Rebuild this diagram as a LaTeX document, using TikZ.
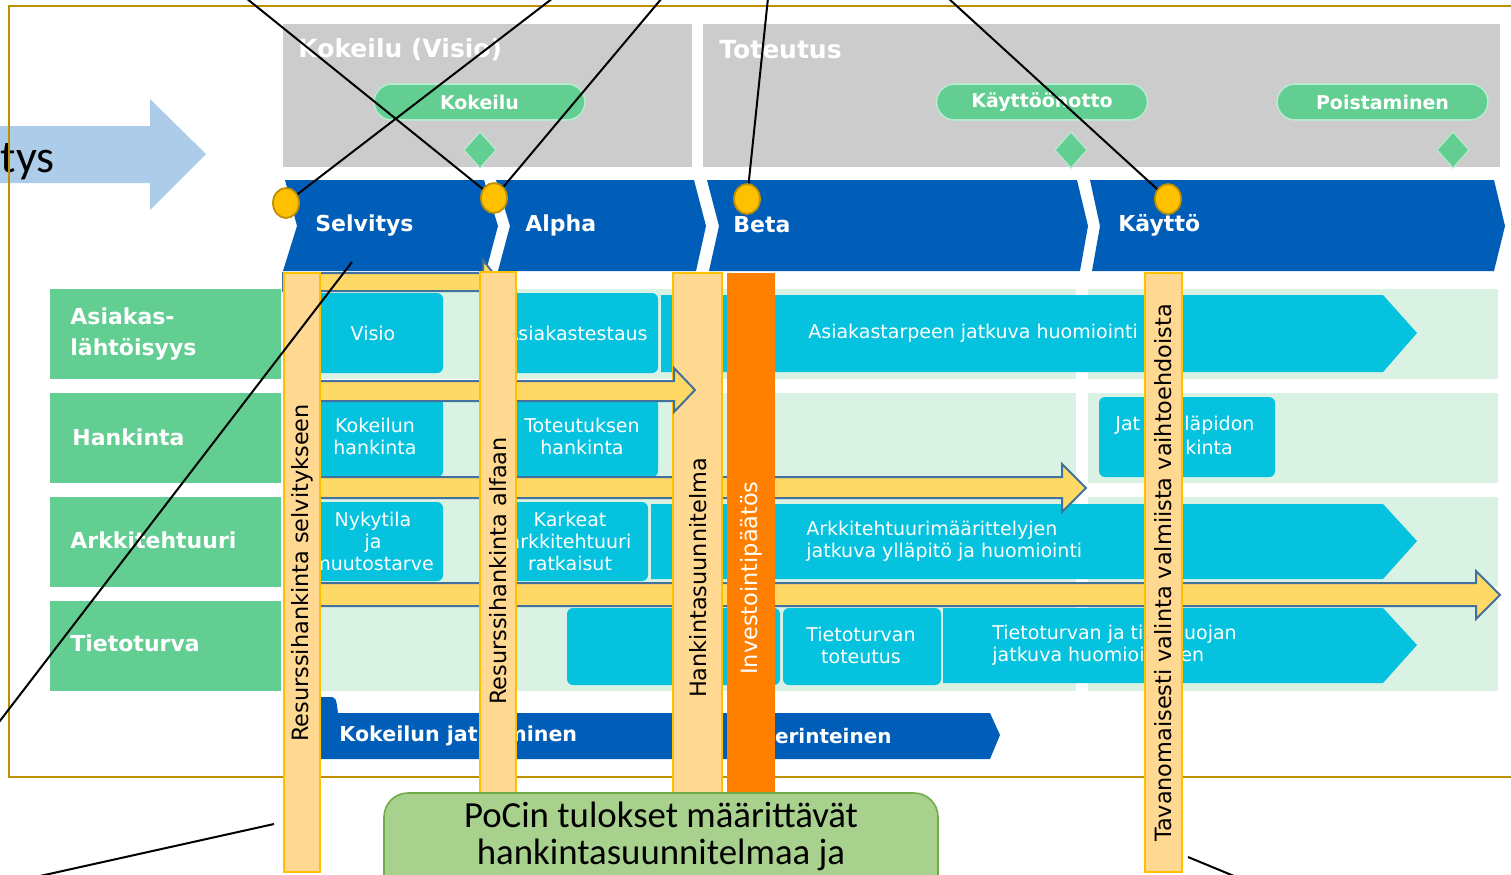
\documentclass[tikz,border=0pt]{standalone}
\usepackage{fontspec}
\setmainfont{DejaVu Sans}
\newfontfamily\calfont{Carlito}
\usetikzlibrary{shapes.geometric}
\definecolor{goldc}{HTML}{BF9000}
\definecolor{grayc}{HTML}{CCCCCC}
\definecolor{greenc}{HTML}{63CE92}
\definecolor{bluec}{HTML}{005EB8}
\definecolor{cyanc}{HTML}{05C3DE}
\definecolor{lgreen}{HTML}{D9F2E4}
\definecolor{lblue}{HTML}{ADCCEA}
\definecolor{barc}{HTML}{FFD891}
\definecolor{barb}{HTML}{FFC000}
\definecolor{orangec}{HTML}{FF8000}
\definecolor{yelc}{HTML}{FFD966}
\definecolor{arrb}{HTML}{41719C}
\definecolor{dotc}{HTML}{FFC000}
\definecolor{pocf}{HTML}{A9D18E}
\definecolor{pocb}{HTML}{70AD47}
\tikzset{
  wlab/.style={text=white, font=\bfseries\fontsize{11}{15.5}\selectfont, inner sep=0pt, anchor=west, align=left},
  ttl/.style={text=white, font=\bfseries\fontsize{12.5}{15}\selectfont, inner sep=0pt, anchor=west},
  pill/.style={fill=greenc, draw=white!55!greenc, line width=0.8pt, rounded corners=9pt,
    minimum width=105.5pt, minimum height=18pt, inner sep=0pt, text=white,
    font=\bfseries\fontsize{9.5}{11}\selectfont},
  dia/.style={fill=greenc, draw=white!55!greenc, line width=0.6pt},
  chev/.style={fill=bluec},
  lbg/.style={fill=lgreen},
  cbox/.style={fill=cyanc, rounded corners=3pt},
  carr/.style={fill=cyanc},
  ctxt/.style={text=white, font=\fontsize{9.5}{11}\selectfont, align=center, inner sep=0pt},
  yarr/.style={fill=yelc, draw=arrb, line width=1pt},
  vbar/.style={fill=barc, draw=barb, line width=0.6pt},
  obar/.style={fill=orangec},
  btxt/.style={rotate=90, font=\fontsize{11.2}{13}\selectfont, inner sep=0pt},
  btxtw/.style={btxt, text=white},
  dot/.style={ellipse, fill=dotc, draw=goldc, line width=0.9pt, minimum width=13pt, minimum height=15pt, inner sep=0pt},
  blk/.style={draw=black, line width=1pt},
  poc/.style={fill=pocf, draw=pocb, line width=0.8pt, rounded corners=12pt},
  poctxt/.style={font=\calfont\fontsize{18.4}{21.5}\selectfont, inner sep=0pt, anchor=base},
}
\begin{document}
\begin{tikzpicture}[x=0.5pt,y=-0.5pt]
\useasboundingbox (0,0) rectangle (1511,874);
\clip (0,0) rectangle (1511,874);
\fill[white] (0,0) rectangle (1511,874);

% light blue arrow
\fill[lblue] (-10,126) -- (150,126) -- (150,99) -- (206,154) -- (150,210) -- (150,183) -- (-10,183) -- cycle;
\node[font=\calfont\fontsize{23}{27}\selectfont, anchor=base east, inner sep=0pt] (tys) at (55,172) {tys};

% frame
\draw[goldc, line width=1.25pt] (1530,6) -- (9,6) -- (9,777) -- (1530,777);

% gray phase boxes
\fill[grayc] (283,24) rectangle (692,167);
\fill[grayc] (703,24) rectangle (1500,167);
\node[ttl] (tk) at (298,50) {Kokeilu (Visio)};
\node[ttl] (tt) at (719,50) {Toteutus};
\node[pill] (p1) at (479.5,102) {Kokeilu};
\node[pill] (p2) at (1042,102) {Käyttöönotto};
\node[pill] (p3) at (1382.5,102) {Poistaminen};
\draw[dia] (480,132) -- (496,150) -- (480,168) -- (464,150) -- cycle;
\draw[dia] (1071,132) -- (1087,150) -- (1071,168) -- (1055,150) -- cycle;
\draw[dia] (1453,132) -- (1469,150) -- (1453,168) -- (1437,150) -- cycle;

% chevrons
\fill[chev] (285,180) -- (484,180) -- (498,226) -- (486,271) -- (283,271) -- (297,226) -- cycle;
\fill[chev] (496,180) -- (694,180) -- (706,226) -- (696,271) -- (498,271) -- (510,226) -- cycle;
\fill[chev] (707,180) -- (1077,180) -- (1088,226) -- (1080,271) -- (709,271) -- (719,226) -- cycle;
\fill[chev] (1090,180) -- (1494,180) -- (1505,226) -- (1494,271) -- (1092,271) -- (1100,226) -- cycle;
\node[wlab] (ch1) at (315,226) {Selvitys};
\node[wlab] (ch2) at (525,225) {Alpha};
\node[wlab] (ch3) at (733,225) {Beta};
\node[wlab] (ch4) at (1118,225) {Käyttö};

% row labels
\fill[greenc] (50,289) rectangle (281,379);
\fill[greenc] (50,393) rectangle (281,483);
\fill[greenc] (50,497) rectangle (281,587);
\fill[greenc] (50,601) rectangle (281,691);
\node[wlab] (r1) at (70,334) {Asiakas-\\lähtöisyys};
\node[wlab] (r2) at (72,437) {Hankinta};
\node[wlab] (r3) at (70,540) {Arkkitehtuuri};
\node[wlab] (r4) at (70,643) {Tietoturva};

% light green row backgrounds
\foreach \ya/\yb in {289/379, 393/483, 497/587, 601/691}{
  \fill[lbg] (283,\ya) rectangle (1076,\yb);
  \fill[lbg] (1088,\ya) rectangle (1498,\yb);
}

% cyan boxes row 1
\fill[cbox] (300,293) rectangle (443,373);
\fill[cbox] (503,293) rectangle (658,373);
\fill[carr] (661,295) -- (1383,295) -- (1417,333) -- (1383,372) -- (661,372) -- cycle;
\node[ctxt] (b1) at (373,333) {Visio};
\node[ctxt, anchor=east] (b2) at (648,333) {Asiakastestaus};
\node[ctxt, anchor=west] (b3) at (808,333) {Asiakastarpeen jatkuva huomiointi};
% row 2
\fill[cbox] (300,398) rectangle (443,477);
\fill[cbox] (503,398) rectangle (658,477);
\fill[cbox] (1099,397) rectangle (1275,477);
\node[ctxt] (b4) at (375,436) {Kokeilun\\hankinta};
\node[ctxt] (b5) at (582,436) {Toteutuksen\\hankinta};
\node[ctxt, anchor=west] (b6a) at (1115,425) {Jat};
\node[ctxt, anchor=west] (b6b) at (1184,425) {läpidon};
\node[ctxt, anchor=west] (b6c) at (1185,447) {kinta};
% row 3
\fill[cbox] (300,502) rectangle (443,581);
\fill[cbox] (503,502) rectangle (648,581);
\fill[carr] (651,504) -- (1383,504) -- (1417,541) -- (1383,579) -- (651,579) -- cycle;
\node[ctxt] (b7) at (373,541) {Nykytila\\ja\\muutostarve};
\node[ctxt] (b8) at (570,541) {Karkeat\\arkkitehtuuri\\ratkaisut};
\node[ctxt, anchor=west, align=left] (b9) at (806,541) {Arkkitehtuurimäärittelyjen\\jatkuva ylläpitö ja huomiointi};
% row 4
\fill[cbox] (567,608) rectangle (780,685);
\fill[cbox] (783,608) rectangle (941,685);
\fill[carr] (943,608) -- (1383,608) -- (1417,645) -- (1383,683) -- (943,683) -- cycle;
\node[ctxt] (b10) at (861,645) {Tietoturvan\\toteutus};
\node[ctxt, anchor=west, align=left] (b11) at (992,645) {Tietoturvan ja tietosuojan\\jatkuva huomioiminen};

% dark blue bottom bar
\fill[chev] (318,713) -- (318,697) -- (328,697) .. controls (336,697) .. (338,713) -- cycle;
\fill[chev] (320,713) -- (990,713) -- (1000,735) -- (990,759) -- (320,759) -- cycle;
\node[wlab, font=\bfseries\fontsize{10.3}{12}\selectfont] (k1) at (339,736) {Kokeilun jatkaminen};
\node[wlab, font=\bfseries\fontsize{10}{12}\selectfont] (k2) at (760,736) {Perinteinen};

% yellow arrows (under bars)
\draw[yarr] (283,273) -- (483,273) -- (483,260) -- (500,282) -- (483,304) -- (483,291) -- (283,291) -- cycle;
\draw[yarr] (318,477) -- (1062,477) -- (1062,464) -- (1086,488) -- (1062,512) -- (1062,498) -- (318,498) -- cycle;
\draw[yarr] (318,583) -- (1476,583) -- (1476,571) -- (1500,595) -- (1476,619) -- (1476,606) -- (318,606) -- cycle;

% bar 3 (under arrow B)
\draw[vbar] (673,273) rectangle (722,880);
\node[btxt] (v3) at (698,578) {Hankintasuunnitelma};
\draw[yarr] (318,381) -- (674,381) -- (674,368) -- (695,390) -- (674,412) -- (674,401) -- (318,401) -- cycle;

% other vertical bars
\draw[vbar] (284,273) rectangle (320,872);
\node[btxt] (v1) at (302,573) {Resurssihankinta selvitykseen};
\draw[vbar] (480,272) rectangle (516,880);
\node[btxt] (v2) at (498,571) {Resurssihankinta alfaan};
\fill[obar] (727,273) rectangle (775,880);
\node[btxtw] (v4) at (751,578) {Investointipäätös};
\draw[vbar] (1145,273) rectangle (1182,872);
\node[btxt] (v5) at (1163,573) {Tavanomaisesti valinta valmiista vaihtoehdoista};

% PoC box
\draw[poc] (384,793) rectangle (938,920);
\node[poctxt] (pa) at (661,827) {PoCin tulokset määrittävät};
\node[poctxt] (pb) at (661,864) {hankintasuunnitelmaa ja};

% dots
\node[dot] (c1) at (286,203) {};
\node[dot] (c2) at (494,198) {};
\node[dot] (c3) at (747,199) {};
\node[dot] (c4) at (1168,199) {};

% free ends
\coordinate (e1) at (553,-2);
\coordinate (e2) at (246,-2);
\coordinate (e3) at (662,-2);
\coordinate (e4) at (768,-2);
\coordinate (e5) at (948,-2);
\coordinate (s1) at (352,262);
\coordinate (s2) at (-4,726);
\coordinate (s3) at (274,824);
\coordinate (s4) at (40,876);
\coordinate (s5) at (1188,857);
\coordinate (s6) at (1234,876);

\draw[blk] (c1) -- (e1);
\draw[blk] (c2) -- (e2);
\draw[blk] (c2) -- (e3);
\draw[blk] (c3) -- (e4);
\draw[blk] (c4) -- (e5);
\draw[blk] (s1) -- (s2);
\draw[blk] (s3) -- (s4);
\draw[blk] (s5) -- (s6);
\end{tikzpicture}
\end{document}
